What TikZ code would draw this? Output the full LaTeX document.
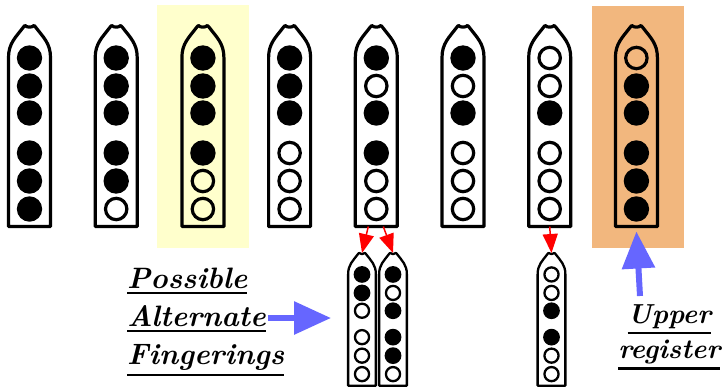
\documentclass[tikz,border=0pt]{standalone}
\usepackage{fontspec}
\usetikzlibrary{arrows.meta}
\definecolor{bgyellow}{HTML}{FFFFCC}
\definecolor{bgorange}{HTML}{F2B77E}
\definecolor{arrowblue}{HTML}{6666FF}
\newcommand\ulbox[1]{\setbox0\hbox{#1}\rlap{\rule[\dimexpr-\dp0-6pt\relax]{\wd0}{2.4pt}}\box0}
% #1 name, #2 cx, #3 top y, #4 scale, #5 line width, #6 hole pattern (1 = closed, 0 = open)
\newcommand\flute[6]{%
\begin{scope}[shift={(#2,#3)}, scale=#4]
  \draw[line width=#5pt, line join=round]
    (-21,201) -- (-21,32) .. controls (-21,18) and (-14,12) .. (-6,1.5)
    -- (-4.5,0) .. controls (-2.5,2.2) and (2.5,2.2) .. (4.5,0)
    -- (6,1.5) .. controls (14,12) and (21,18) .. (21,32) -- (21,201) -- cycle;
  \coordinate (#1-top) at (0,0);
  \coordinate (#1-bot) at (0,201);
  \foreach \st [count=\i] in {#6} {
    \pgfmathsetmacro\hy{{32.5,60.5,87.5,127.5,155.5,183.5}[\i-1]}
    \ifnum\st=1
      \fill (0,\hy) circle (12.7);
    \else
      \draw[line width=#5pt] (0,\hy) circle (10.7);
    \fi
  }
\end{scope}}
\tikzset{
  lbl/.style={inner sep=0pt, font=\fontsize{29.5}{34}\selectfont\bfseries\itshape},
  lblr/.style={inner sep=0pt, font=\fontsize{27.5}{32}\selectfont\bfseries\itshape},
  bluearr/.style={draw=arrowblue, line width=6pt, -{Triangle[length=37pt,width=32pt]}, arrowblue},
  redarr/.style={draw=red, line width=1.5pt, -{Triangle[length=19pt,width=15pt]}, red},
}
\begin{document}
\begin{tikzpicture}[x=1pt, y=-1pt]
\useasboundingbox (0,0) rectangle (722,389);
\fill[bgyellow] (157,5) rectangle (249,248);
\fill[bgorange] (592,6) rectangle (684,248);
\flute{f1}{29.5}{25.5}{1}{3.2}{1,1,1,1,1,1}
\flute{f2}{116.2}{25.5}{1}{3.2}{1,1,1,1,1,0}
\flute{f3}{202.9}{25.5}{1}{3.2}{1,1,1,1,0,0}
\flute{f4}{289.6}{25.5}{1}{3.2}{1,1,1,0,0,0}
\flute{f5}{376.3}{25.5}{1}{3.2}{1,0,1,1,0,0}
\flute{f6}{463}{25.5}{1}{3.2}{1,0,1,0,0,0}
\flute{f7}{549.7}{25.5}{1}{3.2}{0,0,1,0,0,0}
\flute{f8}{636.4}{25.5}{1}{3.2}{0,1,1,1,1,1}
\flute{fA}{362}{253}{0.66}{2.3}{1,1,0,0,0,0}
\flute{fB}{393}{253}{0.66}{2.3}{1,0,1,1,1,0}
\flute{fC}{551.5}{253}{0.66}{2.3}{0,0,1,1,0,0}
\draw[redarr] ([xshift=-8pt]f5-bot) -- (fA-top);
\draw[redarr] ([xshift=7pt]f5-bot) -- (fB-top);
\draw[redarr] (f7-bot) -- (fC-top);
\node[lbl, anchor=base west] (poss) at (127,288) {\ulbox{Possible}};
\node[lbl, anchor=base west] (alt) at (127,326) {\ulbox{Alternate}};
\node[lbl, anchor=base west] (fing) at (127,364) {\ulbox{Fingerings}};
\node[lblr, anchor=base east] (reg) at (720.5,358) {\ulbox{register}};
\node[lblr, anchor=base] (upr) at (reg.base |- 0,323) {\ulbox{Upper}};
\coordinate (fAin) at (331,318);
\coordinate (upstart) at (640,296);
\draw[bluearr] ([shift={(2,-8)}]alt.base east) -- (fAin);
\draw[bluearr] (upstart) -- ([yshift=-5pt]f8-bot);
\end{tikzpicture}
\end{document}
